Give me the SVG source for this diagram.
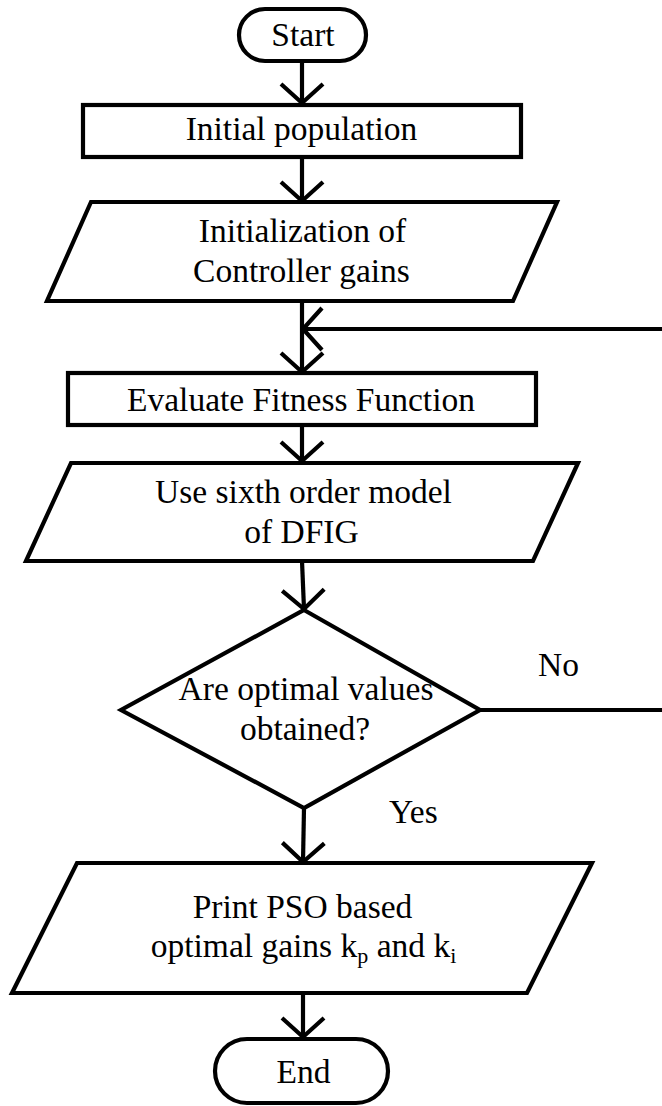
<svg xmlns="http://www.w3.org/2000/svg" width="662" height="1106" viewBox="0 0 662 1106">
  <style>
    .shape { fill: #fff; stroke: #000; stroke-width: 4.2; stroke-linejoin: miter; }
    .link { fill: none; stroke: #000; stroke-width: 4.2; marker-end: url(#vhead); }
    .line { fill: none; stroke: #000; stroke-width: 4.2; }
    text { font-family: 'Liberation Serif', 'DejaVu Serif', serif; font-size: 33.5px; fill: #000; }
    .label { text-anchor: middle; }
    .sub { font-size: 22px; }
  </style>
  <defs>
    <!-- open V arrowhead, tip at the end of the path -->
    <marker id="vhead" markerUnits="userSpaceOnUse" viewBox="-30 -30 40 60" refX="0" refY="0" markerWidth="40" markerHeight="60" orient="auto" overflow="visible">
      <path d="M-19,-21 L0,0 L-19,21" fill="none" stroke="#000" stroke-width="4.2"/>
    </marker>
  </defs>
  <rect x="0" y="0" width="662" height="1106" fill="#fff"/>

  <g id="connectors">
    <path class="link" d="M302,61 V103"/>
    <path class="link" d="M302,157 V201"/>
    <path class="link" d="M302,301 V372"/>
    <path class="link" d="M664,329 H303"/>
    <path class="link" d="M302,425 V461"/>
    <path class="link" d="M302,561 L304,609"/>
    <path class="line" d="M480,710 H664"/>
    <path class="link" d="M304,808 L303,862"/>
    <path class="link" d="M303,993 V1037"/>
    <text x="538" y="676" font-family="Liberation Serif, serif">No</text>
    <text x="389" y="823" font-family="Liberation Serif, serif">Yes</text>
  </g>

  <g id="start">
    <rect class="shape" x="239" y="9" width="127" height="52" rx="26" ry="26"/>
    <text class="label" x="303" y="45.5" font-family="Liberation Serif, serif">Start</text>
  </g>

  <g id="initial-population">
    <rect class="shape" x="83" y="105" width="438" height="52"/>
    <text class="label" x="301.5" y="139.5" font-family="Liberation Serif, serif">Initial population</text>
  </g>

  <g id="init-gains">
    <polygon class="shape" points="91,202 557,202 513,301 47,301"/>
    <text class="label" x="302.5" y="242" font-family="Liberation Serif, serif">Initialization of</text>
    <text class="label" x="301.5" y="282" font-family="Liberation Serif, serif">Controller gains</text>
  </g>

  <g id="evaluate">
    <rect class="shape" x="68" y="373" width="468" height="52"/>
    <text class="label" x="301" y="411" font-family="Liberation Serif, serif">Evaluate Fitness Function</text>
  </g>

  <g id="model">
    <polygon class="shape" points="71,463 578,463 533,561 26,561"/>
    <text class="label" x="303.5" y="503" font-family="Liberation Serif, serif">Use sixth order model</text>
    <text class="label" x="301.5" y="543" font-family="Liberation Serif, serif">of DFIG</text>
  </g>

  <g id="decision">
    <polygon class="shape" points="304,610 480,710 304,808 121,710"/>
    <text class="label" x="306" y="700" font-family="Liberation Serif, serif">Are optimal values</text>
    <text class="label" x="305" y="740" font-family="Liberation Serif, serif">obtained?</text>
  </g>

  <g id="print-gains">
    <polygon class="shape" points="77,863 592,863 527,993 12,993"/>
    <text class="label" x="302.5" y="918" font-family="Liberation Serif, serif">Print PSO based</text>
    <text class="label" x="303.5" y="957" font-family="Liberation Serif, serif">optimal gains k<tspan class="sub" dy="6">p</tspan><tspan dy="-6"> and k</tspan><tspan class="sub" dy="6">i</tspan></text>
  </g>

  <g id="end">
    <rect class="shape" x="215" y="1039" width="173" height="64" rx="32" ry="32"/>
    <text class="label" x="303.5" y="1083" font-family="Liberation Serif, serif">End</text>
  </g>
</svg>
